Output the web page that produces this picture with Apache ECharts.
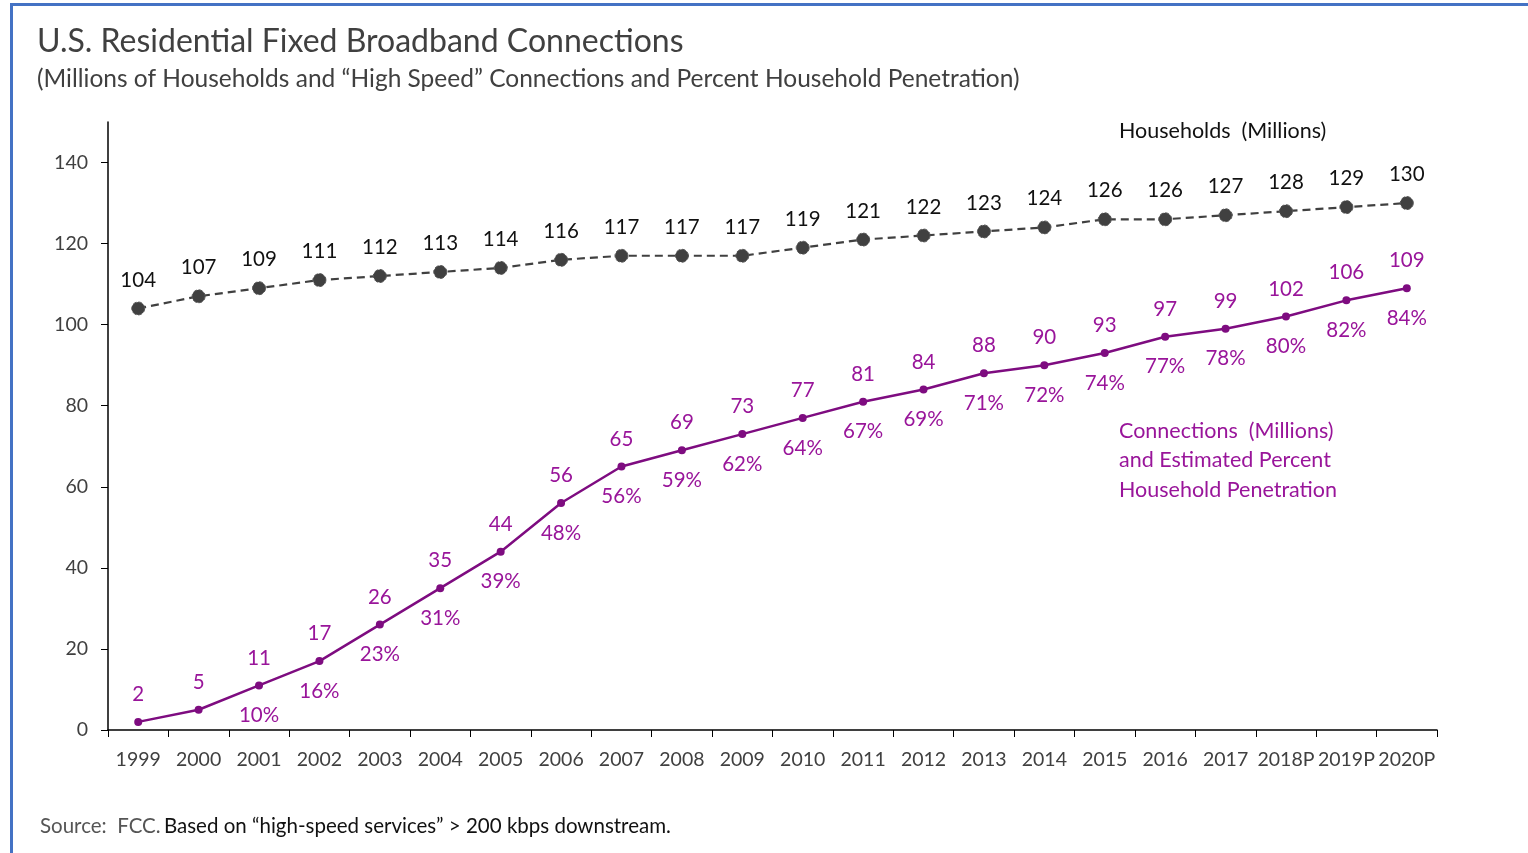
<!DOCTYPE html>
<html>
<head>
<meta charset="utf-8">
<script src="https://cdn.jsdelivr.net/npm/echarts@6/dist/echarts.min.js"></script>
<style>
html,body{margin:0;padding:0;background:#fff;}
#chart{width:1528px;height:853px;}
</style>
</head>
<body>
<div id="chart"></div>
<script>
var years = ['1999','2000','2001','2002','2003','2004','2005','2006','2007','2008','2009','2010','2011','2012','2013','2014','2015','2016','2017','2018P','2019P','2020P'];
var households = [104,107,109,111,112,113,114,116,117,117,117,119,121,122,123,124,126,126,127,128,129,130];
var connections = [2,5,11,17,26,35,44,56,65,69,73,77,81,84,88,90,93,97,99,102,106,109];
var penetration = [null,null,10,16,23,31,39,48,56,59,62,64,67,69,71,72,74,77,78,80,82,84];
var yTicks = [0,20,40,60,80,100,120,140];

var FONT = 'Lato, "Open Sans", sans-serif';
var GRAY = '#404040';
var PURPLE_LINE = '#7E0C80';
var PURPLE_TEXT = '#99159A';

var chart = echarts.init(document.getElementById('chart'));
chart.setOption({
  animation: false,
  textStyle: {fontFamily: FONT},
  grid: {left: 108, right: 91, top: 122, bottom: 123, containLabel: false},
  xAxis: {
    type: 'category',
    data: years,
    boundaryGap: true,
    axisLine: {lineStyle: {color: '#000', width: 1.5}},
    axisTick: {show: true, alignWithLabel: false, length: 7, lineStyle: {color: '#000', width: 1}},
    axisLabel: {color: GRAY, fontSize: 19.5, margin: 20, fontFamily: FONT, interval: 0},
    splitLine: {show: false}
  },
  yAxis: {
    type: 'value',
    min: 0,
    max: 150,
    interval: 10,
    axisLine: {show: true, lineStyle: {color: '#000', width: 1.5}},
    axisTick: {show: true, length: 7, customValues: yTicks, lineStyle: {color: '#000', width: 1}},
    axisLabel: {color: GRAY, fontSize: 19.5, margin: 20, fontFamily: FONT, customValues: yTicks},
    splitLine: {show: false}
  },
  series: [
    {
      name: 'Households',
      type: 'line',
      data: households,
      symbol: 'circle',
      symbolSize: 13,
      itemStyle: {color: GRAY, borderColor: '#555', borderWidth: 1, borderType: 'dashed'},
      lineStyle: {color: GRAY, width: 2.2, type: [8, 5]},
      label: {show: true, position: 'top', distance: 11, color: '#111', fontSize: 20.5, fontFamily: FONT},
      z: 3
    },
    {
      name: 'Connections',
      type: 'line',
      data: connections,
      symbol: 'circle',
      symbolSize: 8,
      itemStyle: {color: PURPLE_LINE},
      lineStyle: {color: PURPLE_LINE, width: 2.5},
      label: {show: true, position: 'top', distance: 13, color: PURPLE_TEXT, fontSize: 20.5, fontFamily: FONT},
      z: 4
    },
    {
      name: 'Penetration',
      type: 'line',
      data: connections,
      symbol: 'circle',
      symbolSize: 1,
      showSymbol: true,
      itemStyle: {color: 'rgba(0,0,0,0)'},
      lineStyle: {opacity: 0, width: 0},
      silent: true,
      labelLayout: {hideOverlap: false},
      label: {
        show: true, position: 'bottom', distance: 19, offset: [7, 0],
        color: PURPLE_TEXT, fontSize: 20.5, fontFamily: FONT,
        formatter: function (p) {
          var v = penetration[p.dataIndex];
          return v == null ? '' : v + '%';
        }
      },
      z: 2
    }
  ],
  graphic: [
    {type: 'rect', shape: {x: 10, y: 3, width: 1518, height: 3}, style: {fill: '#4472C4'}},
    {type: 'rect', shape: {x: 10, y: 3, width: 3, height: 850}, style: {fill: '#4472C4'}},
    {type: 'text', left: 37, top: 26, style: {text: 'U.S. Residential Fixed Broadband Connections', fill: GRAY, font: '32px ' + FONT}},
    {type: 'text', left: 37, top: 67, style: {text: '(Millions of Households and \u201cHigh Speed\u201d Connections and Percent Household Penetration)', fill: GRAY, font: '24.5px ' + FONT}},
    {type: 'text', left: 1119, top: 120, style: {text: 'Households  (Millions)', fill: '#111', font: '21.5px ' + FONT}},
    {type: 'text', left: 1119, top: 416, style: {text: 'Connections  (Millions)\nand Estimated Percent\nHousehold Penetration', fill: PURPLE_TEXT, font: '21.5px ' + FONT, lineHeight: 29.5}},
    {type: 'text', left: 40, top: 816, style: {
      text: '{g|Source:  FCC.} {b|Based on \u201chigh-speed services\u201d > 200 kbps downstream.}',
      rich: {
        g: {fill: '#555', font: '20.5px ' + FONT},
        b: {fill: '#111', font: '20.5px ' + FONT}
      }
    }}
  ]
});
</script>
</body>
</html>
